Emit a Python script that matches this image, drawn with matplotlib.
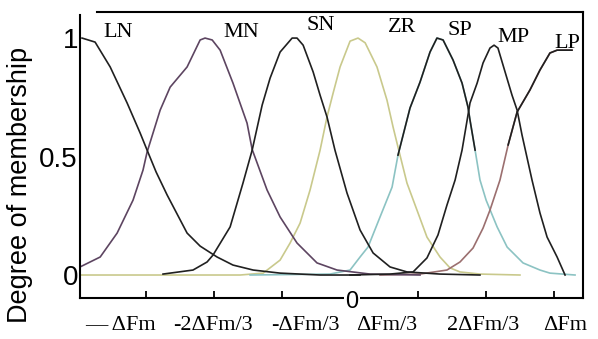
import matplotlib
matplotlib.use("Agg")
import matplotlib.pyplot as plt
import numpy as np

# membership curves, x in units of dFm
ln_x = [-1.314, -1.250, -1.176, -1.093, -1.029, -0.995, -0.951, -0.897, -0.799, -0.735,
        -0.652, -0.574, -0.475, -0.343, -0.147, 0.049]
ln_y = [1.0, 0.983, 0.878, 0.726, 0.599, 0.527, 0.435, 0.338, 0.177, 0.122,
        0.076, 0.042, 0.021, 0.008, 0.0, 0.0]

mn_x = [-1.324, -1.225, -1.142, -1.064, -1.015, -0.995, -0.931, -0.882, -0.799, -0.735,
        -0.711, -0.676, -0.637, -0.574, -0.505, -0.480, -0.407, -0.343, -0.260, -0.162,
        -0.064, 0.098, 0.343]
mn_y = [0.034, 0.076, 0.177, 0.316, 0.443, 0.519, 0.696, 0.793, 0.878, 0.992,
        1.0, 0.992, 0.949, 0.810, 0.641, 0.530, 0.359, 0.245, 0.135, 0.051,
        0.021, 0.004, 0.0]

sn_x = [-0.917, -0.770, -0.701, -0.672, -0.588, -0.525, -0.480, -0.431, -0.392, -0.343,
        -0.284, -0.260, -0.230, -0.181, -0.147, -0.113, -0.074, -0.015, 0.049, 0.113,
        0.196, 0.279, 0.441, 0.637]
sn_y = [0.004, 0.021, 0.055, 0.084, 0.203, 0.388, 0.527, 0.717, 0.831, 0.941,
        1.0, 1.0, 0.970, 0.857, 0.759, 0.667, 0.527, 0.346, 0.190, 0.093,
        0.034, 0.013, 0.004, 0.0]

zr_x = [-1.324, -0.539, -0.426, -0.343, -0.294, -0.245, -0.196, -0.147, -0.113, -0.083,
        -0.049, 0.0, 0.039, 0.074, 0.132, 0.181, 0.211, 0.235, 0.279, 0.328,
        0.377, 0.441, 0.490, 0.539, 0.637, 0.833]
zr_y = [0.0, 0.0, 0.008, 0.063, 0.135, 0.219, 0.359, 0.527, 0.667, 0.768,
        0.878, 0.987, 1.0, 0.98, 0.878, 0.738, 0.624, 0.540, 0.388, 0.274,
        0.160, 0.076, 0.030, 0.013, 0.004, 0.0]

sp_x = [-0.490, -0.098, 0.0, 0.049, 0.088, 0.147, 0.206, 0.235, 0.294, 0.343,
        0.392, 0.426, 0.456, 0.505, 0.549, 0.578, 0.588, 0.613, 0.637, 0.667,
        0.721, 0.770, 0.848, 0.931, 0.980, 1.103]
sp_y = [0.0, 0.004, 0.021, 0.076, 0.118, 0.245, 0.371, 0.506, 0.705, 0.814,
        0.941, 1.0, 0.992, 0.907, 0.810, 0.709, 0.654, 0.527, 0.401, 0.316,
        0.203, 0.118, 0.051, 0.021, 0.008, 0.0]

mp_x = [0.0, 0.196, 0.309, 0.377, 0.431, 0.475, 0.515, 0.549, 0.574, 0.588,
        0.623, 0.652, 0.686, 0.706, 0.725, 0.760, 0.794, 0.819, 0.843, 0.868,
        0.892, 0.931, 0.966, 1.015, 1.054]
mp_y = [0.0, 0.004, 0.013, 0.072, 0.169, 0.295, 0.401, 0.527, 0.654, 0.726,
        0.810, 0.895, 0.958, 0.970, 0.958, 0.857, 0.759, 0.696, 0.591, 0.494,
        0.401, 0.262, 0.160, 0.076, 0.0]

lp_x = [0.147, 0.343, 0.475, 0.539, 0.603, 0.652, 0.686, 0.735, 0.775, 0.819,
        0.882, 0.931, 0.980, 1.015, 1.088]
lp_y = [0.0, 0.004, 0.021, 0.055, 0.114, 0.198, 0.274, 0.401, 0.549, 0.688,
        0.781, 0.865, 0.937, 0.949, 0.949]

set_names = ["LN", "MN", "SN", "ZR", "SP", "MP", "LP"]
tick_vals = [-1, -2 / 3, -1 / 3, 1 / 3, 2 / 3, 1]
tick_labels = ["\u2014 \u0394Fm", "-2\u0394Fm/3", "-\u0394Fm/3", "\u0394Fm/3", "2\u0394Fm/3", "\u0394Fm"]

# styling
curves = [
    (zr_x, zr_y, "#c9c98c", None),
    (sp_x, sp_y, "#8cc3c3", 0.5),
    (lp_x, lp_y, "#9b6f6f", 0.53),
    (mn_x, mn_y, "#5d4561", None),
    (ln_x, ln_y, "#202020", None),
    (sn_x, sn_y, "#202020", None),
    (mp_x, mp_y, "#202020", None),
]
name_pos = [(-1.137, 1.025), (-0.534, 1.025), (-0.142, 1.055), (0.255, 1.046),
            (0.539, 1.030), (0.799, 1.004), (1.064, 0.979)]
label_x = [-1.127, -0.672, -0.221, 0.181, 0.652, 1.054]

serif = ["Liberation Serif", "DejaVu Serif"]
sans = ["Liberation Sans", "DejaVu Sans"]

fig = plt.figure(figsize=(5.98, 3.39), dpi=100)
ax = fig.add_axes([80 / 598, 41 / 339, 503 / 598, 286 / 339])
ax.set_xlim(-1.324, 1.142)
ax.set_ylim(-0.097, 1.110)

for xs, ys, col, thr in curves:
    xs = np.array(xs)
    ys = np.array(ys)
    ax.plot(xs, ys, color=col, lw=1.2, solid_joinstyle="round")
    if thr is not None:
        ax.plot(xs, np.where(ys >= thr, ys, np.nan), color="#202020", lw=1.2)

for name, (px, py) in zip(set_names, name_pos):
    ax.text(px, py, name, family=serif, fontsize=16, ha="center", va="center")

ax.spines["top"].set_visible(False)
for s in ("left", "right", "bottom"):
    ax.spines[s].set_linewidth(1.5)
ax.spines["left"].set_bounds(-0.097, 1.097)
ax.axhline(1.110, xmin=17 / 503, xmax=1.0, color="black", lw=1.5, clip_on=False)

ax.set_xticks(tick_vals)
ax.set_xticklabels([])
ax.tick_params(axis="x", direction="in", length=5, width=1.3)
for lx, lab in zip(label_x, tick_labels):
    ax.annotate(lab, xy=(lx, 0), xycoords=("data", "axes fraction"),
                xytext=(0, -20), textcoords="offset points",
                ha="center", va="center", family=serif, fontsize=16)
ax.annotate("0", xy=(0.01, 0), xycoords=("data", "axes fraction"),
            xytext=(0, -3), textcoords="offset points", ha="center", va="center",
            family=sans, fontsize=17,
            bbox=dict(boxstyle="square,pad=0.05", fc="white", ec="none"))

ax.set_yticks([0, 0.5, 1])
ax.set_yticklabels(["0", "0.5", "1"], family=sans, fontsize=20)
ax.tick_params(axis="y", length=0, pad=1.5)

fig.text(20 / 598, (339 - 185) / 339, "Degree of membership", rotation=90,
         ha="center", va="center", family=sans, fontsize=19.5)

fig.savefig("out.png", dpi=100)
